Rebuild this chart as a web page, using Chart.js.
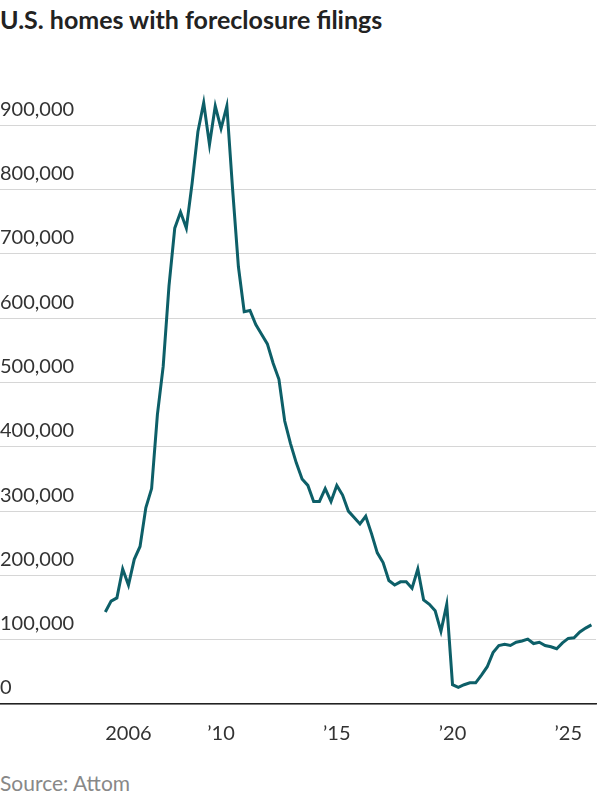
<!DOCTYPE html>
<html>
<head>
<meta charset="utf-8">
<script src="https://cdn.jsdelivr.net/npm/chart.js@4"></script>
<style>
  body { margin: 0; width: 600px; height: 800px; background: #fff; font-family: Lato, "Open Sans", sans-serif; overflow: hidden; }
  #title { position: absolute; left: 0; top: 4px; font-size: 25px; font-weight: bold; color: #222; }
  #wrap { position: absolute; left: 0; top: 49px; width: 600px; height: 715px; }
  #source { position: absolute; left: 0; top: 770px; font-size: 21px; color: #888; }
</style>
</head>
<body>
<div id="title">U.S. homes with foreclosure filings</div>
<div id="wrap"><canvas id="chart"></canvas></div>
<div id="source">Source: Attom</div>
<script>
// quarterly, starting 2005 Q1
var startYear = 2005;
var filings = [
  143000, 160000, 165000, 210000, 185000, 225000, 245000, 305000, 335000, 450000,
  525000, 650000, 740000, 765000, 740000, 810000, 890000, 935000, 870000, 930000,
  895000, 930000, 800000, 680000, 610000, 612000, 590000, 575000, 560000, 530000,
  505000, 440000, 405000, 375000, 350000, 340000, 315000, 315000, 335000, 315000,
  340000, 325000, 300000, 290000, 280000, 292000, 265000, 235000, 220000, 192000,
  185000, 190000, 190000, 180000, 210000, 162000, 155000, 145000, 113000, 155000,
  30000, 26000, 30000, 33000, 33000, 45000, 58000, 80000, 91000, 93000,
  91000, 96000, 98000, 101000, 94000, 96000, 91000, 89000, 86000, 95000,
  102000, 103000, 112000, 118000, 123000
];
var tickYears = [2006, 2010, 2015, 2020, 2025];
var tickLabels = ['2006', '\u201910', '\u201915', '\u201920', '\u201925'];
var yTicks = [0, 100000, 200000, 300000, 400000, 500000, 600000, 700000, 800000, 900000];

var points = filings.map(function (v, i) { return { x: startYear + i * 0.25, y: v }; });

new Chart(document.getElementById('chart'), {
  type: 'line',
  data: { datasets: [{ data: points, borderColor: '#0d5f68', borderWidth: 3, pointRadius: 0, tension: 0 }] },
  options: {
    responsive: true, maintainAspectRatio: false, animation: false,
    layout: { padding: 0 },
    plugins: { legend: { display: false }, tooltip: { enabled: false } },
    scales: {
      x: {
        type: 'linear', min: 2000.45, max: 2026.2,
        afterBuildTicks: function (axis) { axis.ticks = tickYears.map(function (v) { return { value: v }; }); },
        ticks: {
          callback: function (v) { return tickLabels[tickYears.indexOf(v)]; },
          font: { size: 20, family: 'Lato' }, color: '#333', maxRotation: 0, padding: 18
        },
        grid: { display: false, drawTicks: false },
        border: { color: '#222', width: 1.5 }
      },
      y: {
        min: 0, max: 1000000,
        afterBuildTicks: function (axis) { axis.ticks = yTicks.map(function (v) { return { value: v }; }); },
        ticks: {
          mirror: true, padding: 0, labelOffset: -16,
          callback: function (v) { return v.toLocaleString('en-US'); },
          font: { size: 20, family: 'Lato' }, color: '#333'
        },
        grid: { color: '#d6d6d6', drawTicks: false },
        border: { display: false }
      }
    }
  }
});
</script>
</body>
</html>
